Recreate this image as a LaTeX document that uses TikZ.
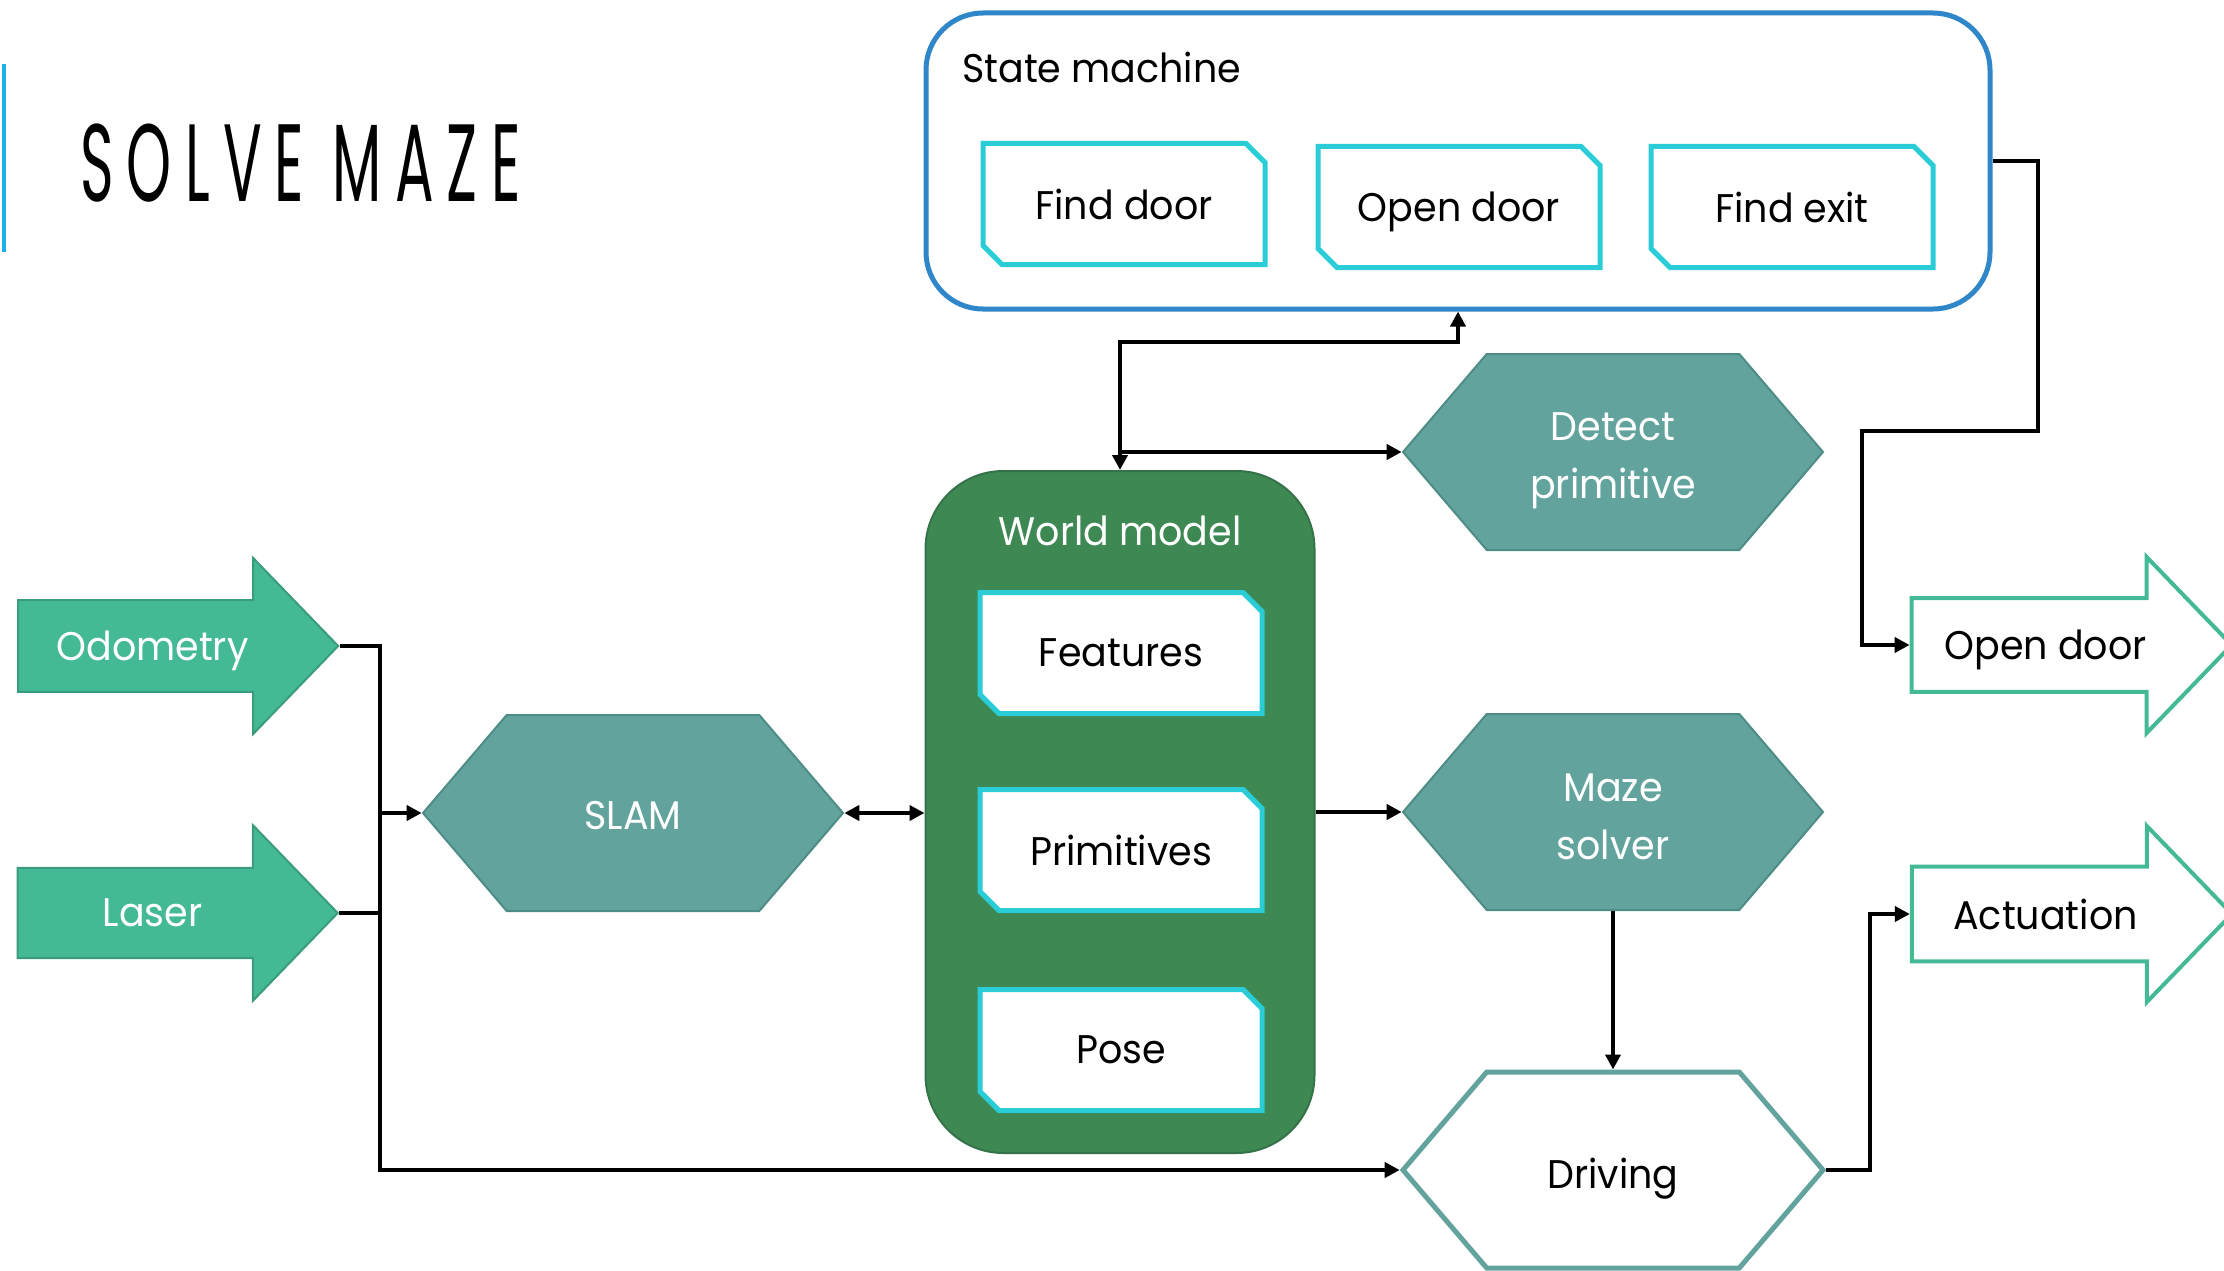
\documentclass[tikz,border=0pt]{standalone}
\usepackage{fontspec}
\setmainfont{Poppins}[FakeStretch=0.95]
\newfontfamily\titlefont[FakeStretch=0.52,LetterSpace=12]{Poppins}
\usetikzlibrary{shapes.symbols,shapes.arrows,shapes.misc,arrows.meta}

\definecolor{hexfill}{HTML}{62A39D}
\definecolor{hexline}{HTML}{4E8C86}
\definecolor{arrfill}{HTML}{44B995}
\definecolor{arrline}{HTML}{3A9C7D}
\definecolor{worldgreen}{HTML}{3E8853}
\definecolor{worldline}{HTML}{34724A}
\definecolor{snipcyan}{HTML}{2ACDD7}
\definecolor{smblue}{HTML}{2F86C8}
\definecolor{barblue}{HTML}{1FB0E8}

\tikzset{
  lbl/.style={font=\fontsize{40}{58}\selectfont, text depth=0pt},
  hextext/.style={font=\fontsize{40}{58}\selectfont, align=center, inner sep=0pt, yshift=-5pt},
  hexa/.style={signal, signal to=east and west, signal pointer angle=99,
    minimum width=420pt, minimum height=196pt, inner sep=0pt},
  hexfull/.style={hexa, fill=hexfill, draw=hexline, line width=2pt},
  hexopen/.style={hexa, fill=white, draw=hexfill, line width=5pt},
  inarrow/.style={single arrow, single arrow tip angle=92, single arrow head extend=20pt,
    minimum width=176pt, minimum height=320pt, inner xsep=0pt, inner ysep=6pt, lbl,
    execute at end node={\hspace{7pt}}},
  snip/.style={chamfered rectangle, chamfered rectangle corners={north east,south west},
    chamfered rectangle xsep=9pt, chamfered rectangle ysep=10pt,
    minimum width=282pt, minimum height=121pt, inner sep=0pt,
    fill=white, draw=snipcyan, line width=5pt, lbl, text depth=-6pt},
  wire/.style={line width=4pt},
  >={Triangle[length=15pt,width=15pt]}
}

\begin{document}
\begin{tikzpicture}[x=1pt,y=-1pt]
  \useasboundingbox (0,0) rectangle (2224,1271);

  % title
  \draw[barblue, line width=4pt] (4,64) -- (4,252);
  \node[anchor=west, inner sep=0pt, font=\titlefont\fontsize{110}{110}\selectfont] (title) at (80,163) {SOLVE MAZE};

  % state machine
  \node[draw=smblue, line width=5pt, rounded corners=57pt, fill=white,
        minimum width=1064pt, minimum height=296pt] (sm) at (1458,161) {};
  \node[anchor=west, lbl, inner sep=0pt] (smlbl) at (962,67) {State machine};
  \node[snip] (finddoor) at (1124,204) {Find door};
  \node[snip] (opendoor) at (1459,207) {Open door};
  \node[snip] (findexit) at (1792,207) {Find exit};

  % world model
  \node[fill=worldgreen, draw=worldline, line width=2pt, rounded corners=78pt,
        minimum width=389pt, minimum height=682pt] (world) at (1120,812) {};
  \node[lbl, text=white] (worldlbl) at (1120,531) {World model};
  \node[snip] (features) at (1121,653) {Features};
  \node[snip] (primitives) at (1121,850) {Primitives};
  \node[snip] (pose) at (1121,1050) {Pose};

  % processes
  \node[hexfull, label={[hextext, text=white, yshift=2pt]center:SLAM}] (slam) at (633,813) {};
  \node[hexfull, label={[hextext, text=white, yshift=-4pt]center:Detect\\primitive}] (detect) at (1613,452) {};
  \node[hexfull, label={[hextext, text=white]center:Maze\\solver}] (maze) at (1613,812) {};
  \node[hexopen, label={[hextext, yshift=-4pt]center:Driving}] (drive) at (1613,1170) {};

  % inputs and outputs
  \node[inarrow, fill=arrfill, draw=arrline, line width=2pt, text=white] (odo) at (156,646) {Odometry};
  \node[inarrow, fill=arrfill, draw=arrline, line width=2pt, text=white] (laser) at (156,913) {Laser};
  \node[inarrow, fill=white, draw=arrfill, line width=4pt] (outdoor) at (2049,645) {Open door};
  \node[inarrow, fill=white, draw=arrfill, line width=4pt] (act) at (2049,914) {Actuation};

  % connections
  \coordinate (bus) at (380,0);
  \draw[wire,->] (odo.tip) -- (odo.tip -| bus) -- (bus |- drive.west) -- (drive.west);
  \draw[wire] (laser.tip) -- (laser.tip -| bus);
  \draw[wire,->] (bus |- slam.west) -- (slam.west);
  \draw[wire,<->] (slam.east) -- (slam.east -| world.west);
  \draw[wire,->] (world.east |- maze.west) -- (maze.west);
  \draw[wire,->] (maze.south) -- (drive.north);
  \draw[wire,<->] (world.north) -- ++(0,-128) -| (sm.south);
  \draw[wire,->] (world.north |- detect.west) -- (detect.west);
  \draw[wire,->] (sm.east) -| (2038,431) -| ([xshift=-48pt]outdoor.tail) -- (outdoor.tail);
  \draw[wire,->] (drive.east) -- ++(44,0) |- (act.tail);
\end{tikzpicture}
\end{document}
